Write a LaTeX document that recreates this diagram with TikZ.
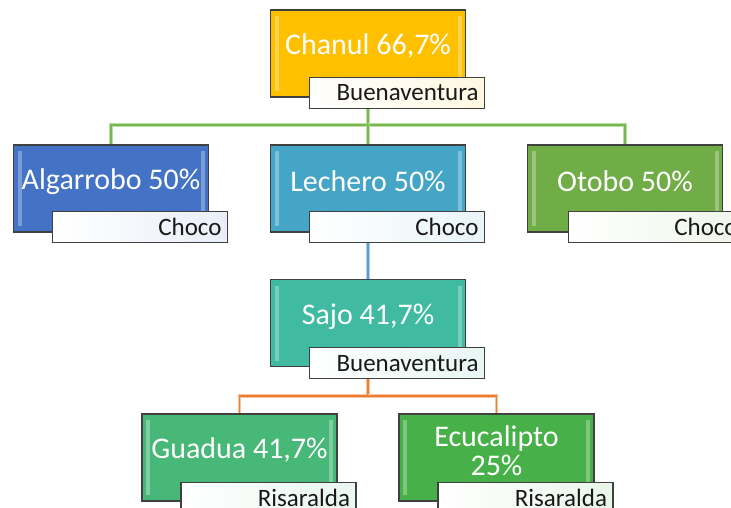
\documentclass[tikz,border=0pt]{standalone}
\usepackage{fontspec}
\setmainfont{Carlito}
\usetikzlibrary{backgrounds}
\definecolor{boxline}{HTML}{404040}
\definecolor{cChanul}{HTML}{FFC000}
\definecolor{cAlg}{HTML}{4472C4}
\definecolor{cLech}{HTML}{45A5C6}
\definecolor{cOto}{HTML}{70AD47}
\definecolor{cSajo}{HTML}{40BAA0}
\definecolor{cGua}{HTML}{48B878}
\definecolor{cEuc}{HTML}{47B048}
\definecolor{gLight}{HTML}{B8DCA2}
\definecolor{gDark}{HTML}{78B851}
\definecolor{bLight}{HTML}{AECFF0}
\definecolor{bDark}{HTML}{5B9BD5}
\definecolor{oLight}{HTML}{F6C4A0}
\definecolor{oDark}{HTML}{ED7D31}
\begin{document}
\begin{tikzpicture}[x=1pt,y=-1pt,
  bevel/.style={path picture={
    \fill[white,opacity=0.3] ([shift={(4,6)}]path picture bounding box.north west) rectangle ([shift={(8,-6)}]path picture bounding box.south west);
    \fill[white,opacity=0.3] ([shift={(-8,6)}]path picture bounding box.north east) rectangle ([shift={(-4,-6)}]path picture bounding box.south east);
  }},
  box/.style={draw=boxline, line width=1.2pt, minimum width=195pt, minimum height=87pt, inner sep=0pt, fill=#1, bevel},
  maintext/.style={text=white, font=\fontsize{30}{29}\selectfont, align=center, inner sep=0pt},
  lbl/.style={draw=boxline, line width=1.2pt, minimum width=175pt, minimum height=31pt, inner ysep=0pt, inner xsep=6pt, text width=163pt, align=right, font=\fontsize{25}{25}\selectfont, text=black!90, left color=white, right color=#1!12!white, anchor=north west},
  conn/.style 2 args={draw=#1, double=#2, double distance=1.6pt, line width=1.1pt},
]
\clip (0,0) rectangle (731,508);

% Row 1
\node[box=cChanul] (chanul) at (368,53.5) {};
\node[maintext] (chanulT) at ([shift={(0,37)}]chanul.north) {Chanul 66,7\%};
\node[lbl=cChanul] (chanulL) at ([shift={(39,-21)}]chanul.south west) {Buenaventura};

% Row 2
\node[box=cAlg] (alg) at (111,188.5) {};
\node[maintext] (algT) at ([shift={(0,37)}]alg.north) {Algarrobo 50\%};
\node[lbl=cAlg] (algL) at ([shift={(39,-22)}]alg.south west) {Choco};

\node[box=cLech] (lech) at (368,188.5) {};
\node[maintext] (lechT) at ([shift={(0,37)}]lech.north) {Lechero 50\%};
\node[lbl=cLech] (lechL) at ([shift={(39,-22)}]lech.south west) {Choco};

\node[box=cOto] (oto) at (625,188.5) {};
\node[maintext] (otoT) at ([shift={(0,37)}]oto.north) {Otobo 50\%};
\node[lbl=cOto] (otoL) at ([shift={(41,-22)}]oto.south west) {Choco};

% Row 3
\node[box=cSajo] (sajo) at (368,323) {};
\node[maintext] (sajoT) at ([shift={(0,38)}]sajo.north) {Sajo 41,7\%};
\node[lbl=cSajo] (sajoL) at ([shift={(39,-20)}]sajo.south west) {Buenaventura};

% Row 4
\node[box=cGua] (gua) at (239.5,457.5) {};
\node[maintext] (guaT) at ([shift={(0,37)}]gua.north) {Guadua 41,7\%};
\node[lbl=cGua] (guaL) at ([shift={(39,-20)}]gua.south west) {Risaralda};

\node[box=cEuc] (euc) at (496.5,457.5) {};
\node[maintext] (eucT) at ([shift={(0,37.5)}]euc.north) {Ecucalipto\\25\%};
\node[lbl=cEuc] (eucL) at ([shift={(39,-20)}]euc.south west) {Risaralda};

\coordinate (bus1) at (368,125);
\coordinate (bus3) at (368,396);

\begin{scope}[on background layer]
  \draw[conn={gLight}{gDark}] (chanul.south) -- (bus1) -| (alg.north);
  \draw[conn={gLight}{gDark}] (bus1) -| (oto.north);
  \draw[conn={gLight}{gDark}] (bus1) -- (lech.north);
  \draw[conn={bLight}{bDark}] (lech.south) -- (sajo.north);
  \draw[conn={oLight}{oDark}] (sajo.south) -- (bus3) -| (gua.north);
  \draw[conn={oLight}{oDark}] (bus3) -| (euc.north);
\end{scope}
\end{tikzpicture}
\end{document}
